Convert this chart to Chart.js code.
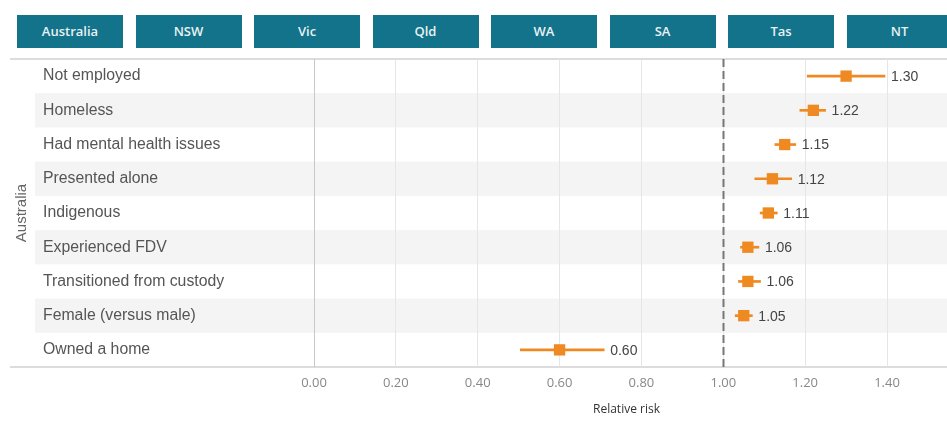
<!DOCTYPE html>
<html>
<head>
<meta charset="utf-8">
<script src="https://cdn.jsdelivr.net/npm/chart.js@4"></script>
<style>
  body { margin: 0; background: #fff; }
  #wrap { position: relative; width: 947px; height: 421px; }
  .tab {
    position: absolute; top: 15px; width: 106px; height: 33px;
    background: #12738a; color: #e9f1f3; text-align: center;
    font: 600 13px "Open Sans", sans-serif;
    line-height: 33px;
  }
  canvas { position: absolute; left: 0; top: 0; }
</style>
</head>
<body>
<div id="wrap">
  <div id="tabs"></div>
  <canvas id="riskChart" width="947" height="421"></canvas>
</div>
<script>
var tabs = ['Australia', 'NSW', 'Vic', 'Qld', 'WA', 'SA', 'Tas', 'NT'];
var factors = [
  'Not employed',
  'Homeless',
  'Had mental health issues',
  'Presented alone',
  'Indigenous',
  'Experienced FDV',
  'Transitioned from custody',
  'Female (versus male)',
  'Owned a home',
];
var risk = [1.30, 1.22, 1.15, 1.12, 1.11, 1.06, 1.06, 1.05, 0.60];
var lower = [1.205, 1.187, 1.126, 1.077, 1.09, 1.042, 1.037, 1.029, 0.504];
var upper = [1.395, 1.25, 1.177, 1.167, 1.132, 1.087, 1.091, 1.071, 0.709];
var xTicks = [0, 0.2, 0.4, 0.6, 0.8, 1.0, 1.2, 1.4];

var orange = '#ef8a22';

// state tabs across the top
var tabBox = document.getElementById('tabs');
tabs.forEach(function (t, i) {
  var d = document.createElement('div');
  d.className = 'tab';
  d.style.left = (17 + i * 118.5) + 'px';
  d.textContent = t;
  tabBox.appendChild(d);
});

var forestPlugin = {
  id: 'forest',
  beforeDraw: function (chart) {
    var ctx = chart.ctx, y = chart.scales.y, area = chart.chartArea;
    var h = (area.bottom - area.top) / factors.length;
    ctx.save();
    ctx.fillStyle = '#f4f4f4';
    factors.forEach(function (f, i) {
      if (i % 2 === 1) {
        var c = y.getPixelForValue(i);
        ctx.fillRect(35, c - h / 2, chart.width - 35, h);
      }
    });
    ctx.strokeStyle = '#dcdcdc';
    ctx.lineWidth = 2;
    ctx.beginPath();
    ctx.moveTo(10, area.top); ctx.lineTo(chart.width, area.top);
    ctx.moveTo(10, area.bottom); ctx.lineTo(chart.width, area.bottom);
    ctx.stroke();
    // side title
    ctx.translate(22, (area.top + area.bottom) / 2);
    ctx.rotate(-Math.PI / 2);
    ctx.fillStyle = '#666';
    ctx.font = '15px "Liberation Sans", Arial, sans-serif';
    ctx.textAlign = 'center';
    ctx.textBaseline = 'middle';
    ctx.fillText('Australia', 0, 0);
    ctx.restore();
  },
  beforeDatasetsDraw: function (chart) {
    var ctx = chart.ctx, x = chart.scales.x, area = chart.chartArea;
    var px = Math.round(x.getPixelForValue(1)) + 0.5;
    ctx.save();
    ctx.strokeStyle = '#777';
    ctx.lineWidth = 2;
    ctx.setLineDash([8, 4]);
    ctx.beginPath();
    ctx.moveTo(px, area.top);
    ctx.lineTo(px, area.bottom);
    ctx.stroke();
    ctx.restore();
  },
  afterDatasetsDraw: function (chart) {
    var ctx = chart.ctx, x = chart.scales.x, y = chart.scales.y;
    ctx.save();
    ctx.fillStyle = '#444';
    ctx.font = '14px "Liberation Sans", Arial, sans-serif';
    ctx.textBaseline = 'middle';
    risk.forEach(function (v, i) {
      ctx.fillText(v.toFixed(2), x.getPixelForValue(upper[i]) + 6, y.getPixelForValue(i) + 1);
    });
    ctx.restore();
  },
};

var chartCtx = document.getElementById('riskChart').getContext('2d');
var riskChart = new Chart(chartCtx, {
  type: 'bar',
  data: {
    labels: factors,
    datasets: [
      {
        type: 'bar',
        indexAxis: 'y',
        data: lower.map(function (l, i) { return [l, upper[i]]; }),
        backgroundColor: orange,
        barThickness: 2,
        borderSkipped: false,
      },
      {
        type: 'line',
        indexAxis: 'y',
        data: risk,
        showLine: false,
        pointStyle: 'rect',
        pointRadius: 8,
        pointBorderWidth: 0,
        pointBackgroundColor: orange,
        pointHoverRadius: 8,
      },
    ],
  },
  plugins: [forestPlugin],
  options: {
    indexAxis: 'y',
    responsive: false,
    animation: false,
    layout: {
      padding: { left: 43, top: 59, right: 0, bottom: 0 },
    },
    plugins: {
      legend: { display: false },
      tooltip: { enabled: false },
    },
    scales: {
      x: {
        type: 'linear',
        min: 0,
        max: 1.527,
        afterFit: function (s) { s.height = 54; },
        afterBuildTicks: function (s) {
          s.ticks = xTicks.map(function (v) { return { value: v }; });
        },
        ticks: {
          color: '#888',
          font: { family: '"Open Sans", sans-serif', size: 13 },
          padding: 8,
          callback: function (v) { return Number(v).toFixed(2); },
        },
        grid: {
          color: function (c) { return c.tick && c.tick.value === 0 ? '#c8c8c8' : '#e6e6e6'; },
          drawTicks: false,
        },
        border: { display: false },
        title: {
          display: true,
          text: 'Relative risk',
          color: '#333',
          font: { family: '"Open Sans", sans-serif', size: 12 },
          padding: { top: 4, bottom: 4 },
        },
      },
      y: {
        type: 'category',
        afterFit: function (s) { s.width = 271; },
        ticks: {
          crossAlign: 'far',
          color: '#555',
          font: { family: '"Liberation Sans", Arial, sans-serif', size: 15.8 },
        },
        grid: { display: false },
        border: { display: false },
      },
    },
  },
});
</script>
</body>
</html>
